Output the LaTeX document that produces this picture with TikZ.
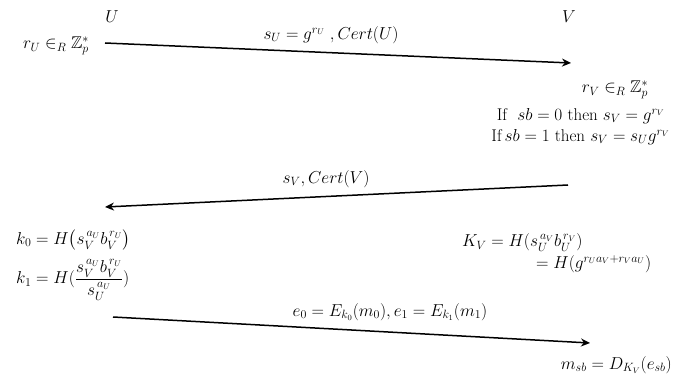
\documentclass[tikz,border=0pt]{standalone}
\usepackage{amsmath,amssymb}
\usetikzlibrary{arrows.meta}
\begin{document}
\begin{tikzpicture}[x=1pt,y=-1pt,
  lbl/.style={inner sep=0pt,font=\fontsize{17}{19}\selectfont},
  msg/.style={line width=1.5pt,-{Stealth[length=9pt,width=8pt]}}]
\useasboundingbox (0,0) rectangle (682,379);
\node[lbl] (U) at (112,17) {$U$};
\node[lbl] (V) at (569,17) {$V$};
\node[lbl] (rU) at (56,46) {$r_U \in_R \mathbb{Z}^{*}_{p}$};
\coordinate (a1s) at (105,43);
\coordinate (a1e) at (571,63);
\draw[msg] (a1s) -- (a1e);
\node[lbl] (m1) at (331,35) {$s_U = g^{r_U}\ ,Cert(U)$};
\node[lbl] (rV) at (615,90) {$r_V \in_R \mathbb{Z}^{*}_{p}$};
\node[lbl,anchor=east] (if0) at (665,116) {If\ \ $sb = 0$ then $s_V = g^{r_V}$};
\node[lbl,anchor=east] (if1) at (670,137) {If\,$sb = 1$ then $s_V = s_U g^{r_V}$};
\coordinate (a2s) at (568,185);
\coordinate (a2e) at (105,207);
\draw[msg] (a2s) -- (a2e);
\node[lbl] (m2) at (326,179) {$s_V, Cert(V)$};
\node[lbl,anchor=west] (k0) at (16,240) {$k_0 = H\bigl(s_V^{\,a_U} b_V^{\,r_U}\bigr)$};
\node[lbl,anchor=west] (k1) at (16,280) {$k_1 = H(\dfrac{s_V^{\,a_U} b_V^{\,r_U}}{s_U^{\,a_U}})$};
\node[lbl,anchor=west] (KV) at (462,243) {$K_V = H(s_U^{\,a_V} b_U^{\,r_V})$};
\node[lbl,anchor=west] (KV2) at (536,264) {$= H(g^{r_U a_V + r_V a_U})$};
\coordinate (a3s) at (113,317);
\coordinate (a3e) at (590,343);
\draw[msg] (a3s) -- (a3e);
\node[lbl] (m3) at (390,312) {$e_0 = E_{k_0}(m_0), e_1 = E_{k_1}(m_1)$};
\node[lbl,anchor=east] (msb) at (672,365) {$m_{sb} = D_{K_V}(e_{sb})$};
\end{tikzpicture}
\end{document}
